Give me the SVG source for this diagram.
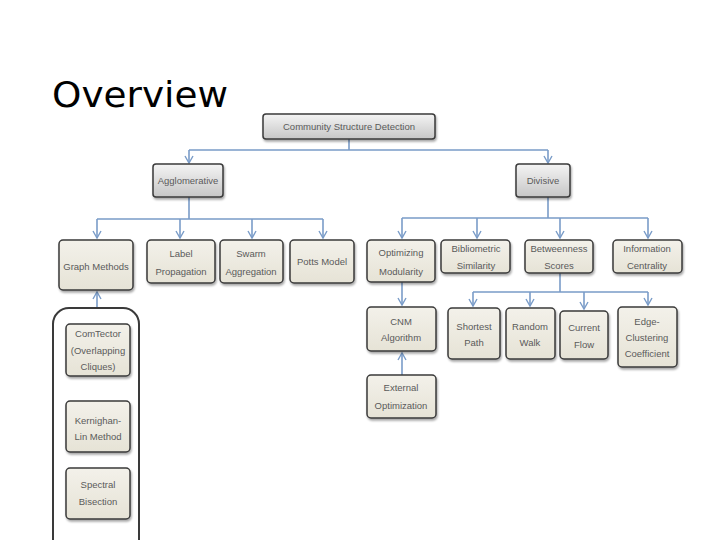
<svg xmlns="http://www.w3.org/2000/svg" width="720" height="540" viewBox="0 0 720 540">
<style>
.t{font-family:"Liberation Sans",Arial,sans-serif;font-size:9.5px;fill:#5a5a5a;text-anchor:middle}
.b{fill:url(#beige);stroke:#3a3a3a;stroke-width:1.5;filter:url(#sh)}
.g{fill:url(#gray);stroke:#3a3a3a;stroke-width:1.5;filter:url(#sh)}
.c{fill:none;stroke:#7a9cc8;stroke-width:1.6}
.a{marker-end:url(#arr)}
</style>
<defs>
<linearGradient id="beige" x1="0" y1="0" x2="0" y2="1"><stop offset="0" stop-color="#f3f1ea"/><stop offset="1" stop-color="#e6e3d6"/></linearGradient>
<linearGradient id="gray" x1="0" y1="0" x2="0" y2="1"><stop offset="0" stop-color="#f4f4f4"/><stop offset="1" stop-color="#c6c6c6"/></linearGradient>
<filter id="sh" x="-20%" y="-20%" width="140%" height="150%"><feDropShadow dx="1" dy="2" stdDeviation="1.2" flood-color="#000" flood-opacity="0.35"/></filter>
<marker id="arr" markerUnits="userSpaceOnUse" markerWidth="10" markerHeight="10" refX="8" refY="5" orient="auto"><path d="M1,1 L8,5 L1,9" fill="none" stroke="#7a9cc8" stroke-width="1.4"/></marker>
</defs>
<rect width="720" height="540" fill="#fff"/>
<text x="52" y="107" font-family="DejaVu Sans,Verdana,sans-serif" font-size="35" fill="#000" textLength="176" lengthAdjust="spacingAndGlyphs">Overview</text>

<g id="connectors">
<path class="c" d="M349,139 V150 M189,150 H548"/>
<path class="c a" d="M189,150 V163"/>
<path class="c a" d="M548,150 V163"/>
<path class="c" d="M189,197 V219 M97,219 H323"/>
<path class="c a" d="M97,219 V238"/>
<path class="c a" d="M180,219 V238"/>
<path class="c a" d="M252,219 V238"/>
<path class="c a" d="M323,219 V238"/>
<path class="c" d="M548,197 V218 M402,218 H648"/>
<path class="c a" d="M402,218 V238"/>
<path class="c a" d="M477,218 V238"/>
<path class="c a" d="M560,218 V238"/>
<path class="c a" d="M648,218 V238"/>
<path class="c a" d="M402,282 V305"/>
<path class="c a" d="M402,375 V353"/>
<path class="c" d="M560,273 V292 M473,292 H648"/>
<path class="c a" d="M473,292 V306"/>
<path class="c a" d="M530,292 V306"/>
<path class="c a" d="M584,292 V309"/>
<path class="c a" d="M648,292 V305"/>
<path class="c a" d="M97,308 V292"/>
</g>

<g id="n-community"><rect class="g" x="263" y="114" width="172" height="25" rx="3"/><text class="t" x="349" y="130">Community Structure Detection</text></g>
<g id="n-agglomerative"><rect class="g" x="153" y="164" width="70" height="33" rx="3"/><text class="t" x="188" y="184">Agglomerative</text></g>
<g id="n-divisive"><rect class="g" x="516" y="164" width="54" height="33" rx="3"/><text class="t" x="543" y="184">Divisive</text></g>

<g id="n-graph"><rect class="b" x="59" y="240" width="74" height="50" rx="4"/><text class="t" x="96" y="270">Graph Methods</text></g>
<g id="n-label"><rect class="b" x="147" y="240" width="68" height="43" rx="4"/><text class="t" x="181" y="257">Label</text><text class="t" x="181" y="275">Propagation</text></g>
<g id="n-swarm"><rect class="b" x="220" y="240" width="63" height="43" rx="4"/><text class="t" x="251" y="257">Swarm</text><text class="t" x="251" y="275">Aggregation</text></g>
<g id="n-potts"><rect class="b" x="290" y="240" width="64" height="43" rx="4"/><text class="t" x="322" y="265">Potts Model</text></g>

<g id="n-optmod"><rect class="b" x="367" y="240" width="68" height="42" rx="4"/><text class="t" x="401" y="256">Optimizing</text><text class="t" x="401" y="275">Modularity</text></g>
<g id="n-biblio"><rect class="b" x="441" y="240" width="69" height="33" rx="4"/><text class="t" x="476" y="252">Bibliometric</text><text class="t" x="476" y="269">Similarity</text></g>
<g id="n-betw"><rect class="b" x="525" y="240" width="68" height="33" rx="4"/><text class="t" x="559" y="252">Betweenness</text><text class="t" x="559" y="269">Scores</text></g>
<g id="n-info"><rect class="b" x="613" y="240" width="69" height="33" rx="4"/><text class="t" x="647" y="252">Information</text><text class="t" x="647" y="269">Centrality</text></g>

<g id="n-cnm"><rect class="b" x="367" y="307" width="69" height="44" rx="4"/><text class="t" x="401" y="325">CNM</text><text class="t" x="401" y="341">Algorithm</text></g>
<g id="n-external"><rect class="b" x="367" y="375" width="69" height="43" rx="4"/><text class="t" x="401" y="391">External</text><text class="t" x="401" y="409">Optimization</text></g>

<g id="n-shortest"><rect class="b" x="448" y="308" width="52" height="51" rx="4"/><text class="t" x="474" y="330">Shortest</text><text class="t" x="474" y="346">Path</text></g>
<g id="n-random"><rect class="b" x="506" y="308" width="49" height="51" rx="4"/><text class="t" x="530" y="330">Random</text><text class="t" x="530" y="346">Walk</text></g>
<g id="n-current"><rect class="b" x="560" y="311" width="48" height="48" rx="4"/><text class="t" x="584" y="331">Current</text><text class="t" x="584" y="348">Flow</text></g>
<g id="n-edge"><rect class="b" x="618" y="307" width="59" height="60" rx="4"/><text class="t" x="647" y="325">Edge-</text><text class="t" x="647" y="341">Clustering</text><text class="t" x="647" y="357">Coefficient</text></g>

<g id="n-container"><rect x="53" y="308" width="86" height="250" rx="16" fill="#fff" stroke="#3a3a3a" stroke-width="2"/></g>
<g id="n-comtector"><rect class="b" x="66" y="324" width="64" height="52" rx="4"/><text class="t" x="98" y="337">ComTector</text><text class="t" x="98" y="354">(Overlapping</text><text class="t" x="98" y="370">Cliques)</text></g>
<g id="n-kl"><rect class="b" x="66" y="401" width="64" height="51" rx="4"/><text class="t" x="98" y="424">Kernighan-</text><text class="t" x="98" y="440">Lin Method</text></g>
<g id="n-spectral"><rect class="b" x="66" y="468" width="64" height="51" rx="4"/><text class="t" x="98" y="488">Spectral</text><text class="t" x="98" y="505">Bisection</text></g>
</svg>
